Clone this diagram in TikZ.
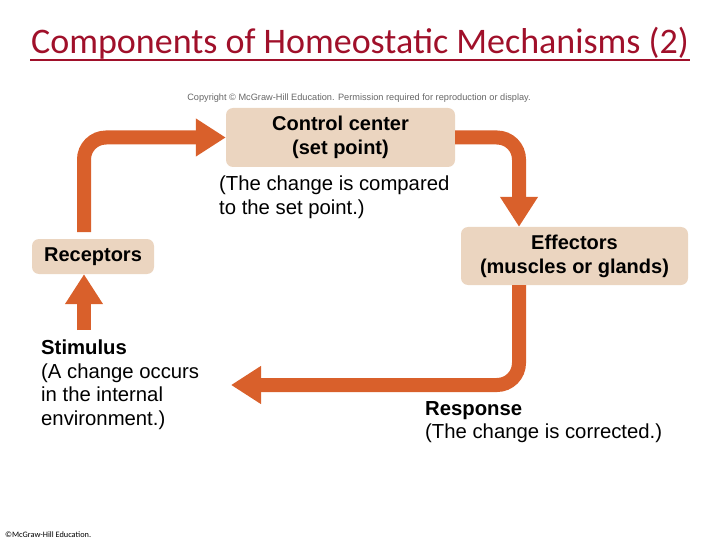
\documentclass[tikz,border=0pt]{standalone}
\usepackage{fontspec}
\setmainfont{Liberation Sans}
\newfontfamily\titlefont{Carlito}
\usetikzlibrary{arrows.meta}
\definecolor{beige}{HTML}{EBD5C0}
\definecolor{orng}{HTML}{D9602B}
\definecolor{titred}{HTML}{A0102A}
\begin{document}
\begin{tikzpicture}[x=1pt,y=-1pt,
  box/.style={fill=beige,rounded corners=7pt,font=\fontsize{20}{24}\selectfont\bfseries,align=center,inner sep=0pt},
  flow/.style={draw=orng,line width=14pt,rounded corners=22pt,-{Triangle[length=30pt,width=36pt]}},
  lbl/.style={font=\fontsize{20.3}{23.5}\selectfont,align=left,anchor=north west,inner sep=0pt}]
\useasboundingbox (0,0) rectangle (720,540);
\node[font=\titlefont\fontsize{36}{38}\selectfont,text=titred] (title) at (360,43) {Components of Homeostatic Mechanisms (2)};
\draw[titred,line width=1.5pt] (30,60) -- (690,60);
\node[font=\fontsize{9.2}{11}\selectfont,text=black!60] (copy) at (359,98) {Copyright \copyright\ McGraw-Hill Education. Permission required for reproduction or display.};
\node[box,minimum width=229pt,minimum height=59pt] (cc) at (340.5,137.5) {Control center\\(set point)};
\node[box,minimum width=122pt,minimum height=35pt] (rec) at (93,256.5) {Receptors};
\node[box,minimum width=227pt,minimum height=58pt] (eff) at (574.5,256) {Effectors\\(muscles or glands)};
\coordinate (s1) at (84,232);
\coordinate (s2) at (84,330);
\coordinate (r1) at (519,285);
\draw[flow] (s1) |- (cc.west);
\draw[flow] (cc.east) -| (eff.north -| r1);
\draw[flow] (r1) |- (231,385);
\draw[flow,rounded corners=0pt] (s2) -- (rec.south -| s2);
\node[lbl] (t1) at (219,176) {(The change is compared\\to the set point.)};
\node[lbl] (t2) at (41,340) {\textbf{Stimulus}\\(A change occurs\\in the internal\\environment.)};
\node[lbl] (t3) at (425,401) {\textbf{Response}\\(The change is corrected.)};
\node[font=\titlefont\fontsize{8.3}{9}\selectfont,anchor=west,inner sep=0pt] (mh) at (5,535) {\copyright McGraw-Hill Education.};
\end{tikzpicture}
\end{document}
